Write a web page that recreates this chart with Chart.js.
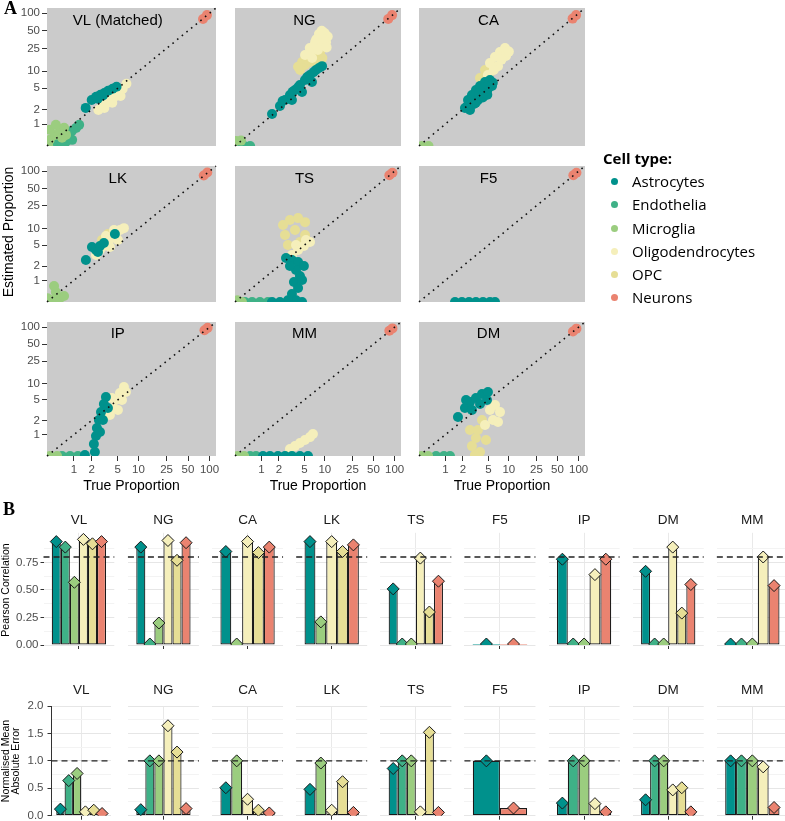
<!DOCTYPE html>
<html>
<head>
<meta charset="utf-8">
<script src="https://cdn.jsdelivr.net/npm/chart.js@4.4.1/dist/chart.umd.min.js"></script>
<style>
  body { margin: 0; width: 785px; height: 821px; position: relative; overflow: hidden; background: #fff;
         font-family: "Liberation Sans", Arial, sans-serif; }
  .txt { position: absolute; white-space: nowrap; color: #000; }
  .rot { position: absolute; white-space: nowrap; color: #000; text-align: center; transform: translate(-50%, -50%) rotate(-90deg); }
  .legend { position: absolute; left: 603px; top: 148px; font-family: "Open Sans", sans-serif; }
  .legend .head { font-weight: bold; font-size: 15px; margin-bottom: 2px; }
  .legend .item { height: 23.3px; line-height: 23.3px; font-size: 15px; position: relative; padding-left: 29px; }
  .legend .dot { position: absolute; left: 8px; top: 8px; width: 7px; height: 7px; border-radius: 50%; }
</style>
</head>
<body>
<script>
"use strict";

/* ---------- gemensamt ---------- */
const cellTypes = ["Astrocytes", "Endothelia", "Microglia", "Oligodendrocytes", "OPC", "Neurons"];
const cellColours = ["#00918c", "#3fb187", "#9bcd7f", "#f5efbb", "#e6de95", "#ea8370"];
// ritordning: lägre = överst
const drawOrder = [1, 5, 4, 2, 3, 0];

/* ---------- panel A: [sann, skattad] i procent ---------- */
const proportionTicks = [1, 2, 5, 10, 25, 50, 100];
const axisLow = 0.25;   // nedre kant av panelerna
const axisHigh = 123;   // övre kant

const vlAstro = [[1.6, 2.15], [2.0, 3.05], [2.35, 3.5], [2.75, 3.8], [3.15, 4.1], [3.6, 4.5], [4.2, 4.9], [4.8, 5.3], [2.5, 3.2], [3.0, 3.7]];
const vlEndo = [[0.41, 0.3], [0.54, 0.4], [0.65, 0.49], [0.78, 0.59], [0.93, 0.7], [1.1, 0.82], [1.24, 0.96], [0.71, 0.35], [0.93, 0.4], [0.6, 0.27]];
const vlMicro = [[0.3, 0.4], [0.41, 0.55], [0.54, 0.74], [0.3, 0.74], [0.43, 0.96], [0.65, 0.82], [0.59, 0.46], [0.27, 0.27], [0.71, 0.55]];
const vlOligo = [[2.55, 1.95], [2.95, 2.35], [3.4, 2.7], [3.9, 3.05], [4.45, 3.5], [5.1, 4.1], [5.9, 4.85], [6.7, 6.0], [3.15, 2.15], [4.15, 2.7], [5.5, 3.6]];
const vlOpc = [[3.6, 2.9], [4.8, 3.95]];
const vlNeuron = [[81, 80], [92, 93]];

const ngAstro = [[1.54, 1.63], [2.08, 2.34], [2.51, 3.03], [3.0, 3.76], [3.59, 4.64], [4.27, 5.71], [5.08, 7.0], [6.04, 8.6], [7.4, 10.5], [9.1, 12.3], [3.22, 3.03], [4.59, 4.26], [6.46, 6.46], [2.3, 2.9], [3.3, 4.3], [4.0, 5.2], [5.5, 7.9], [6.8, 9.6], [8.2, 11.4]];
const ngEndo = [[0.3, 0.25], [0.44, 0.25], [0.6, 0.25]];
const ngMicro = [[0.27, 0.37], [0.37, 0.38]];
const ngOligo = [[5.1, 19.2], [6.0, 25.3], [7.2, 32], [8.5, 37.6], [9.9, 45.8], [7.9, 23.4], [10.4, 32], [6.5, 17], [8.8, 28], [11, 40], [9, 50], [7, 27], [6, 21], [7.5, 36], [9.6, 36], [10.6, 26], [8.2, 44]];
const ngOpc = [[4.3, 10.5], [5.1, 12.9], [6.0, 14.5], [7.2, 17], [8.5, 21.6], [4.6, 14.5], [4.0, 12], [5.5, 16], [6.8, 20], [7.5, 14], [9.2, 17], [5.2, 18]];
const ngNeuron = [[81, 80], [92, 93]];

const caAstro = [[2.16, 2.14], [2.42, 3.03], [2.79, 3.76], [3.22, 4.64], [3.72, 5.48], [4.43, 6.46], [5.26, 7.0], [2.6, 1.95], [3.46, 3.03], [4.59, 4.26], [5.64, 5.48], [3.0, 2.55], [3.6, 4.0], [4.1, 3.4], [4.8, 4.6], [3.2, 2.7], [2.4, 2.4], [4.3, 5.0], [5.0, 5.8], [5.8, 6.3], [4.8, 3.8]];
const caMicro = [[0.3, 0.25], [0.45, 0.25]];
const caOligo = [[4.9, 8.6], [5.26, 13.9], [6.25, 17.7], [7.41, 21.6], [8.78, 25.3], [6.93, 12.3], [9.08, 18.5], [7.8, 16], [10, 22], [6.0, 10.5]];
const caOpc = [[3.72, 7.61], [4.43, 10.5], [5.5, 10], [4.8, 9], [5.8, 12]];
const caNeuron = [[82, 81], [92, 93]];

const lkAstro = [[1.61, 2.62], [2.02, 4.6], [2.34, 4.05], [2.7, 4.8], [3.1, 5.44], [4.54, 7.92], [2.51, 3.71]];
const lkMicro = [[0.35, 0.29], [0.43, 0.52], [0.39, 0.74], [0.53, 0.34], [0.65, 0.4], [0.26, 0.34]];
const lkOligo = [[2.34, 3.26], [2.7, 4.05], [3.1, 4.8], [3.57, 5.68], [4.1, 6.72], [4.7, 7.92], [5.39, 9.34], [6.16, 10.1], [3.83, 4.6], [5.03, 6.17], [3.33, 7.29], [4.4, 9.34]];
const lkOpc = [[2.9, 6.17], [3.57, 7.92]];
const lkNeuron = [[83, 84], [93, 95]];

const tsAstro = [[2.6, 2.86], [3.22, 2.62], [4.0, 2.4], [4.9, 2.0], [3.72, 1.66], [4.27, 1.25], [3.46, 0.92], [4.0, 0.66], [3.22, 0.455], [3.72, 0.29], [2.79, 0.29], [2.08, 0.25], [1.54, 0.25], [4.6, 0.25], [3.0, 2.0], [4.6, 1.02]];
const tsEndo = [[0.46, 0.25], [0.66, 0.25], [0.94, 0.25], [1.31, 0.25]];
const tsMicro = [[0.29, 0.29], [0.39, 0.25]];
const tsOligo = [[3.22, 3.26], [4.0, 4.05], [4.9, 4.8], [6.04, 5.68], [3.72, 5.0], [5.26, 6.17]];
const tsOpc = [[2.33, 11.5], [3.0, 14.1], [4.0, 15.2], [5.1, 12.9], [2.51, 7.6], [3.59, 9.34], [5.1, 7.6], [2.79, 5.0], [4.27, 5.68]];
const tsNeuron = [[84, 85], [93, 94]];

const f5Astro = [[1.48, 0.25], [1.93, 0.25], [2.51, 0.25], [3.22, 0.25], [4.13, 0.25], [5.26, 0.25], [6.25, 0.25]];
const f5Neuron = [[84, 85], [93, 94]];

const ipAstro = [[3.33, 5.66], [3.1, 4.19], [2.8, 2.94], [2.6, 2.05], [2.42, 1.4], [2.34, 0.93], [2.17, 0.59], [2.25, 0.345], [1.55, 0.27], [3.57, 3.52], [2.7, 1.15], [3.0, 2.05]];
const ipEndo = [[0.59, 0.25], [0.85, 0.25], [1.18, 0.25]];
const ipMicro = [[0.3, 0.25], [0.46, 0.25]];
const ipOligo = [[3.83, 2.58], [4.24, 3.52], [4.7, 4.97], [5.39, 6.7], [6.16, 8.61], [5.03, 3.22], [5.77, 4.97], [6.59, 6.98], [4.1, 5.41]];
const ipNeuron = [[85, 88], [94, 97]];

const mmAstro = [[1.07, 0.25], [1.42, 0.25], [1.93, 0.25], [2.51, 0.25], [3.22, 0.25], [4.27, 0.25], [5.64, 0.25]];
const mmEndo = [[0.6, 0.25], [0.79, 0.25]];
const mmMicro = [[0.29, 0.25], [0.44, 0.25]];
const mmOligo = [[3.0, 0.43], [3.59, 0.52], [4.27, 0.63], [5.08, 0.75], [6.04, 0.88], [6.68, 1.04]];
const mmNeuron = [[84, 86], [93, 95]];

const dmAstro = [[1.66, 2.35], [2.16, 3.52], [2.6, 4.56], [3.22, 5.41], [3.99, 6.41], [4.91, 6.98], [2.79, 3.22], [3.72, 4.19], [4.75, 4.97], [2.25, 4.97]];
const dmEndo = [[0.66, 0.25], [0.94, 0.25], [1.21, 0.25]];
const dmMicro = [[0.29, 0.25], [0.44, 0.25]];
const dmOligo = [[5.26, 3.22], [6.25, 4.0], [7.41, 2.94], [5.84, 2.05], [4.43, 1.62], [6.93, 1.87]];
const dmOpc = [[2.6, 1.27], [3.22, 0.835], [2.79, 0.52], [3.72, 0.345], [3.46, 1.27], [4.59, 0.75], [3.11, 0.27], [3.99, 2.05]];
const dmNeuron = [[83, 84], [93, 94]];

const scatterNames = ["VL (Matched)", "NG", "CA", "LK", "TS", "F5", "IP", "MM", "DM"];
const scatterSets = [
  [vlAstro, vlEndo, vlMicro, vlOligo, vlOpc, vlNeuron],
  [ngAstro, ngEndo, ngMicro, ngOligo, ngOpc, ngNeuron],
  [caAstro, [], caMicro, caOligo, caOpc, caNeuron],
  [lkAstro, [], lkMicro, lkOligo, lkOpc, lkNeuron],
  [tsAstro, tsEndo, tsMicro, tsOligo, tsOpc, tsNeuron],
  [f5Astro, [], [], [], [], f5Neuron],
  [ipAstro, ipEndo, ipMicro, ipOligo, [], ipNeuron],
  [mmAstro, mmEndo, mmMicro, mmOligo, [], mmNeuron],
  [dmAstro, dmEndo, dmMicro, dmOligo, dmOpc, dmNeuron]
];

/* ---------- panel B: värden per celltyp, null = saknas ---------- */
const barPanels = ["VL", "NG", "CA", "LK", "TS", "F5", "IP", "DM", "MM"];

const pearsonAstro  = [0.94, 0.89, 0.85, 0.94, 0.51, 0,    0.78, 0.67, 0];
const pearsonEndo   = [0.89, 0,    null, null, 0,    null, 0,    0,    0];
const pearsonMicro  = [0.57, 0.20, 0,    0.21, 0,    null, 0,    0,    0];
const pearsonOligo  = [0.96, 0.95, 0.94, 0.94, 0.79, null, 0.64, 0.89, 0.80];
const pearsonOpc    = [0.92, 0.77, 0.84, 0.85, 0.30, null, null, 0.29, null];
const pearsonNeuron = [0.94, 0.93, 0.89, 0.91, 0.58, 0,    0.78, 0.55, 0.54];

const nmaeAstro  = [0.12, 0.11, 0.51, 0.48, 0.86, 1.0,  0.23, 0.29, 1.0];
const nmaeEndo   = [0.64, 1.0,  null, null, 1.0,  null, 1.0,  1.0,  1.0];
const nmaeMicro  = [0.77, 1.0,  1.0,  0.96, 1.0,  null, 1.0,  1.0,  1.0];
const nmaeOligo  = [0.07, 1.64, 0.30, 0.10, 0.07, null, 0.22, 0.47, 0.89];
const nmaeOpc    = [0.10, 1.16, 0.10, 0.62, 1.52, null, null, 0.51, null];
const nmaeNeuron = [0.04, 0.13, 0.05, 0.06, 0.06, 0.14, 0.07, 0.07, 0.15];

const pearsonRef = 0.8;
const nmaeRef = 1.0;

/* ---------- hjälpfunktioner ---------- */
Chart.defaults.font.family = "'Liberation Sans', Arial, sans-serif";
Chart.defaults.color = "#4d4d4d";

// pseudo-log skala för andelarna
const tr = (v) => Math.log10(v + 0.3);

function addText(cls, html, css) {
  const d = document.createElement("div");
  d.className = cls;
  d.innerHTML = html;
  d.style.cssText = css;
  document.body.appendChild(d);
  return d;
}

// skapar en canvas så att chartArea hamnar på rect
function place(rect, axL, axB, topM) {
  const M = 14;
  const x0 = Math.floor(rect.l - axL - M), y0 = Math.floor(rect.t - (topM || M));
  const x1 = Math.ceil(rect.r + M), y1 = Math.ceil(rect.b + axB + M);
  const cv = document.createElement("canvas");
  cv.width = x1 - x0;
  cv.height = y1 - y0;
  cv.style.cssText = "position:absolute;left:" + x0 + "px;top:" + y0 + "px;";
  document.body.appendChild(cv);
  return {
    cv,
    padding: { left: rect.l - axL - x0, top: rect.t - y0, right: x1 - rect.r, bottom: y1 - rect.b - axB }
  };
}

const fixSize = (w, h) => (s) => {
  if (w !== null) s.width = w;
  if (h !== null) s.height = h;
  s.paddingLeft = s.paddingRight = s.paddingTop = s.paddingBottom = 0;
};

/* ---------- plugins ---------- */
const greyPanel = {
  id: "greyPanel",
  beforeDraw(c) {
    const a = c.chartArea;
    c.ctx.save();
    c.ctx.fillStyle = "#cbcbcb";
    c.ctx.fillRect(a.left, a.top, a.right - a.left, a.bottom - a.top);
    c.ctx.restore();
  }
};

const identityLine = {
  id: "identityLine",
  afterDatasetsDraw(c) {
    const { ctx, scales: { x, y } } = c;
    const lo = Math.max(x.min, y.min), hi = Math.min(x.max, y.max);
    ctx.save();
    ctx.setLineDash([1.6, 4.4]);
    ctx.lineWidth = 1.6;
    ctx.strokeStyle = "#111";
    ctx.beginPath();
    ctx.moveTo(x.getPixelForValue(lo), y.getPixelForValue(lo));
    ctx.lineTo(x.getPixelForValue(hi), y.getPixelForValue(hi));
    ctx.stroke();
    ctx.restore();
  }
};

const scatterTitle = {
  id: "scatterTitle",
  afterDraw(c, args, opts) {
    const { ctx, scales: { x, y } } = c;
    ctx.save();
    ctx.font = "15px 'Liberation Sans', Arial, sans-serif";
    ctx.fillStyle = "#000";
    ctx.textAlign = "center";
    ctx.textBaseline = "middle";
    ctx.fillText(opts.text, x.getPixelForValue(tr(5)), y.getPixelForValue(tr(75)));
    ctx.restore();
  }
};

const diamonds = {
  id: "diamonds",
  afterDatasetsDraw(c) {
    const { ctx, chartArea: a } = c;
    ctx.save();
    ctx.beginPath();
    ctx.rect(a.left - 10, a.top - 10, a.right - a.left + 20, a.bottom - a.top + 10);
    ctx.clip();
    c.data.datasets.forEach((ds, i) => {
      c.getDatasetMeta(i).data.forEach((el) => {
        ctx.fillStyle = ds.backgroundColor;
        ctx.strokeStyle = "#1a1a1a";
        ctx.lineWidth = 1;
        Chart.helpers.drawPoint(ctx, { pointStyle: "rectRot", radius: 6, borderWidth: 1 }, el.x, el.y);
      });
    });
    ctx.restore();
  }
};

const refLine = {
  id: "refLine",
  afterDatasetsDraw(c, args, opts) {
    const { ctx, chartArea: a, scales: { y } } = c;
    const py = y.getPixelForValue(opts.value);
    ctx.save();
    ctx.setLineDash([6, 4]);
    ctx.lineWidth = 1.4;
    ctx.strokeStyle = "#222";
    ctx.beginPath();
    ctx.moveTo(a.left, py);
    ctx.lineTo(a.right, py);
    ctx.stroke();
    ctx.restore();
  }
};

const stripTitle = {
  id: "stripTitle",
  afterDraw(c, args, opts) {
    const { ctx, chartArea: a } = c;
    ctx.save();
    ctx.font = "13.5px 'Liberation Sans', Arial, sans-serif";
    ctx.fillStyle = "#1a1a1a";
    ctx.textAlign = "center";
    ctx.textBaseline = "middle";
    ctx.fillText(opts.text, (a.left + a.right) / 2, a.top - opts.offset);
    ctx.restore();
  }
};

/* ---------- panel A ---------- */
const colRects = [[47, 216], [235, 401], [419, 585]];
const rowRects = [[8, 146], [166, 302], [322, 456]];

function logAxis(show, isX) {
  return {
    type: "linear",
    display: show,
    min: tr(axisLow),
    max: tr(axisHigh),
    afterBuildTicks: (s) => { s.ticks = proportionTicks.map((v) => ({ value: tr(v) })); },
    afterFit: isX ? fixSize(null, show ? 20 : 0) : fixSize(show ? 34 : 0, null),
    grid: { drawOnChartArea: false, drawTicks: true, tickLength: 5, tickColor: "#333", tickWidth: 1 },
    border: { display: false },
    ticks: {
      color: "#4d4d4d", font: { size: 11.5 }, padding: 2, maxRotation: 0, autoSkip: false,
      callback: (v, i) => proportionTicks[i]
    }
  };
}

scatterNames.forEach((name, p) => {
  const col = p % 3, row = Math.floor(p / 3);
  const rect = { l: colRects[col][0], r: colRects[col][1], t: rowRects[row][0], b: rowRects[row][1] };
  const showY = col === 0, showX = row === 2;
  const pl = place(rect, showY ? 34 : 0, showX ? 20 : 0);
  new Chart(pl.cv, {
    type: "scatter",
    data: {
      datasets: scatterSets[p].map((pts, k) => ({
        label: cellTypes[k],
        data: pts.map((q) => ({ x: tr(q[0]), y: tr(q[1]) })),
        backgroundColor: cellColours[k],
        pointRadius: 5,
        pointBorderWidth: 0,
        pointHoverRadius: 5,
        order: drawOrder[k],
        clip: 0
      }))
    },
    options: {
      responsive: false,
      animation: false,
      events: [],
      layout: { padding: pl.padding },
      plugins: { legend: { display: false }, tooltip: { enabled: false }, scatterTitle: { text: name } },
      scales: { x: logAxis(showX, true), y: logAxis(showY, false) }
    },
    plugins: [greyPanel, identityLine, scatterTitle]
  });
});

/* ---------- panel B ---------- */
const barRows = [
  { series: [pearsonAstro, pearsonEndo, pearsonMicro, pearsonOligo, pearsonOpc, pearsonNeuron],
    ref: pearsonRef, max: 1.02, step: 0.125, major: 0.25, dec: 2, top: 532.8, bottom: 645,
    firstLeft: 43.5, firstRight: 114.3, tickLen: 3, tickPad: 2, titleGap: 12.8, axisLine: false },
  { series: [nmaeAstro, nmaeEndo, nmaeMicro, nmaeOligo, nmaeOpc, nmaeNeuron],
    ref: nmaeRef, max: 2.0, step: 0.25, major: 0.5, dec: 1, top: 706, bottom: 815.7,
    firstLeft: 51.5, firstRight: 111, tickLen: 4, tickPad: 4, titleGap: 16, axisLine: true }
];

barRows.forEach((cfg) => {
  barPanels.forEach((name, i) => {
    const first = i === 0;
    const centre = 79.3 + 84.13 * i;
    const rect = first
      ? { l: cfg.firstLeft, r: cfg.firstRight, t: cfg.top, b: cfg.bottom }
      : { l: centre - 35.5, r: centre + 35.5, t: cfg.top, b: cfg.bottom };
    const groupWidth = first && cfg.axisLine ? 50 : 54.3;
    const cp = groupWidth / (rect.r - rect.l);
    const isMajor = (v) => Math.abs(v / cfg.major - Math.round(v / cfg.major)) < 1e-6;

    const datasets = [];
    cfg.series.forEach((s, k) => {
      const v = s[i];
      if (v === null) return;
      datasets.push({
        label: cellTypes[k],
        data: [v],
        backgroundColor: cellColours[k],
        borderColor: v > 0 ? "#1a1a1a" : "#666",
        borderWidth: v > 0 ? 1.2 : 0,
        borderSkipped: false,
        minBarLength: v > 0 ? 0 : 1,
        categoryPercentage: cp,
        barPercentage: 1
      });
    });

    const axL = first ? 30 : 0;
    const pl = place(rect, axL, 4, 28);
    new Chart(pl.cv, {
      type: "bar",
      data: { labels: [""], datasets },
      options: {
        responsive: false,
        animation: false,
        events: [],
        layout: { padding: pl.padding },
        plugins: {
          legend: { display: false }, tooltip: { enabled: false },
          refLine: { value: cfg.ref },
          stripTitle: { text: name, offset: cfg.titleGap }
        },
        scales: {
          x: {
            type: "category",
            offset: true,
            afterFit: fixSize(null, 4),
            grid: { offset: false, color: "#e9e9e9", tickColor: "#333", tickLength: 4, drawTicks: true },
            border: { display: false },
            ticks: { display: false }
          },
          y: {
            min: 0,
            max: cfg.max,
            afterBuildTicks: (s) => {
              s.ticks = s.ticks.filter((t) => Math.abs(t.value / cfg.step - Math.round(t.value / cfg.step)) < 1e-6);
            },
            afterFit: fixSize(axL, null),
            grid: {
              color: (ctx) => (isMajor(ctx.tick.value) ? "#e6e6e6" : "#f3f3f3"),
              tickColor: (ctx) => (isMajor(ctx.tick.value) ? "#333" : "rgba(0,0,0,0)"),
              drawTicks: first,
              tickLength: cfg.tickLen
            },
            border: { display: first && cfg.axisLine, color: "#333", width: 1 },
            ticks: {
              display: first,
              stepSize: cfg.step,
              autoSkip: false,
              padding: cfg.tickPad,
              color: "#4d4d4d",
              font: { size: 11.5 },
              callback: (v) => (isMajor(v) ? v.toFixed(cfg.dec) : "")
            }
          }
        }
      },
      plugins: [diamonds, refLine, stripTitle]
    });
  });
});

/* ---------- texter ---------- */
addText("txt", "A", "left:4px;top:-2px;font:bold 18px 'Liberation Serif',serif;");
addText("txt", "B", "left:3px;top:499px;font:bold 18px 'Liberation Serif',serif;");
addText("rot", "Estimated Proportion", "left:8px;top:232px;font-size:14px;");
[131.5, 318, 502].forEach((cx) => {
  addText("txt", "True Proportion", "left:" + cx + "px;top:477px;font-size:14px;transform:translateX(-50%);");
});
addText("rot", "Pearson Correlation", "left:5px;top:590px;font-size:10.5px;");
addText("rot", "Normalised Mean<br>Absolute Error", "left:10px;top:761px;font-size:10.5px;line-height:9.5px;");

// legend
const legend = document.createElement("div");
legend.className = "legend";
legend.innerHTML = '<div class="head">Cell type:</div>' +
  cellTypes.map((t, k) => '<div class="item"><span class="dot" style="background:' + cellColours[k] + '"></span>' + t + "</div>").join("");
document.body.appendChild(legend);
</script>
</body>
</html>
